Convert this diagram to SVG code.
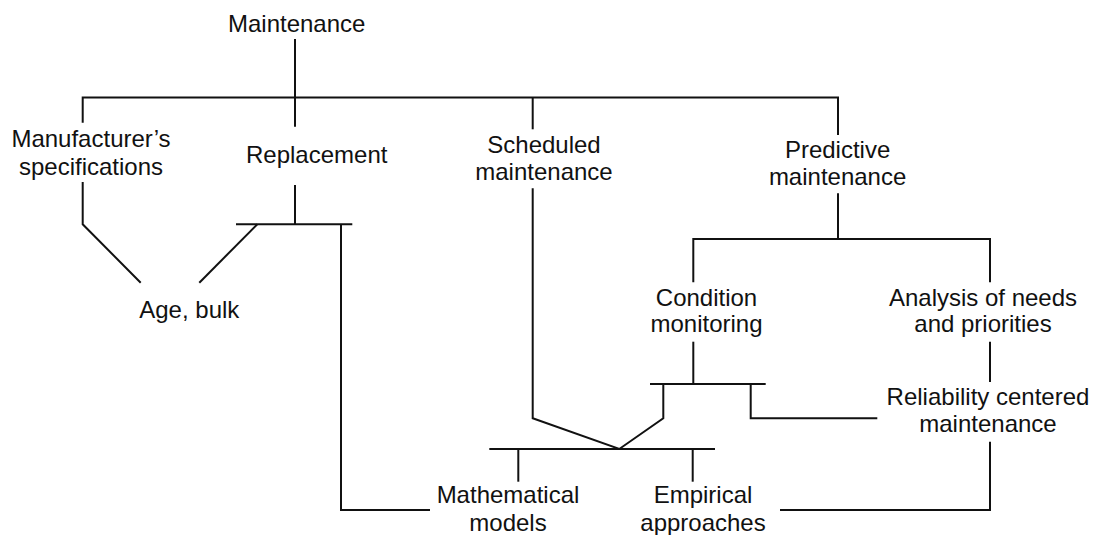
<svg xmlns="http://www.w3.org/2000/svg" width="1097" height="535" viewBox="0 0 1097 535">
<style>
text{font-family:"Liberation Sans",Arial,sans-serif;font-size:24px;fill:#111;text-anchor:middle}
.c{fill:none;stroke:#111;stroke-width:2}
</style>
<rect width="1097" height="535" fill="#fff"/>
<g id="connectors">
<path class="c" d="M295,39 V97.5"/>
<path class="c" d="M82.7,122.7 V97.5 H838 V135"/>
<path class="c" d="M295,97.5 V126.7"/>
<path class="c" d="M532.7,97.5 V129.3"/>
<path class="c" d="M82.7,182 V224.3 L140.7,282.7"/>
<path class="c" d="M295,185 V224.3"/>
<path class="c" d="M236,224.3 H352.3"/>
<path class="c" d="M199.3,282.7 L257.3,224.3"/>
<path class="c" d="M341,224.3 V510 H430"/>
<path class="c" d="M532.7,188.3 V418.3 L619.3,449 L663.3,418.3 V384"/>
<path class="c" d="M489.3,449 H715"/>
<path class="c" d="M518.3,449 V481.7"/>
<path class="c" d="M692.7,449 V481.7"/>
<path class="c" d="M838,193.3 V239"/>
<path class="c" d="M693.3,282.3 V239 H990 V282.3"/>
<path class="c" d="M693.3,341.7 V384"/>
<path class="c" d="M650,384 H765.7"/>
<path class="c" d="M750.7,384 V418.3 H877.3"/>
<path class="c" d="M990,341.7 V382"/>
<path class="c" d="M990,441.7 V510 H780"/>
</g>
<g id="maintenance"><text x="296.7" y="32">Maintenance</text></g>
<g id="manufacturer"><text x="91" y="147">Manufacturer’s</text><text x="91" y="175">specifications</text></g>
<g id="replacement"><text x="316.7" y="163">Replacement</text></g>
<g id="scheduled"><text x="544" y="153">Scheduled</text><text x="544" y="180">maintenance</text></g>
<g id="predictive"><text x="837.6" y="157.5">Predictive</text><text x="837.6" y="185">maintenance</text></g>
<g id="condition"><text x="706.5" y="305.5">Condition</text><text x="706.5" y="332">monitoring</text></g>
<g id="analysis"><text x="983" y="305.5">Analysis of needs</text><text x="983" y="332">and priorities</text></g>
<g id="age"><text x="189.3" y="318">Age, bulk</text></g>
<g id="rcm"><text x="988" y="405">Reliability centered</text><text x="988" y="431.7">maintenance</text></g>
<g id="math"><text x="508" y="503.3">Mathematical</text><text x="508" y="531">models</text></g>
<g id="empirical"><text x="703" y="503.3">Empirical</text><text x="703" y="531">approaches</text></g>
</svg>
